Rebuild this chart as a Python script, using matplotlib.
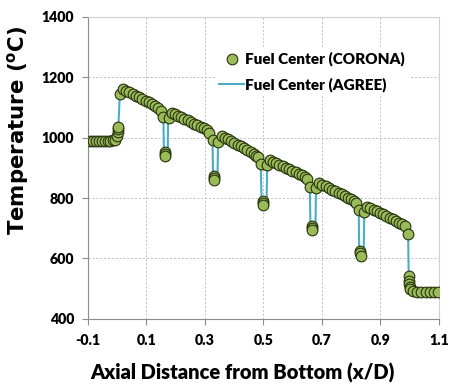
#!/usr/bin/env python3
"""Fuel center temperature vs axial distance, CORONA vs AGREE"""

from matplotlib import pyplot as plt

# CORONA points (x/D, temperature in C)
corona_x = [-0.093, -0.083, -0.073, -0.063, -0.053, -0.043, -0.033, -0.023, -0.013, -0.006,
            -0.001, 0.002, 0.003, 0.004, 0.009,
            0.020, 0.031, 0.042, 0.053, 0.064, 0.075, 0.086, 0.097, 0.108, 0.119, 0.130, 0.141, 0.150,
            0.157, 0.163, 0.164, 0.165, 0.177,
            0.186, 0.197, 0.208, 0.219, 0.230, 0.241, 0.252, 0.263, 0.274, 0.285, 0.296, 0.306, 0.315,
            0.326, 0.330, 0.331, 0.332, 0.345,
            0.357, 0.368, 0.379, 0.390, 0.401, 0.412, 0.423, 0.434, 0.445, 0.456, 0.467, 0.476, 0.482,
            0.491, 0.497, 0.498, 0.499, 0.513,
            0.522, 0.533, 0.544, 0.555, 0.566, 0.577, 0.588, 0.599, 0.610, 0.621, 0.632, 0.642, 0.649,
            0.659, 0.665, 0.666, 0.667, 0.680,
            0.691, 0.702, 0.713, 0.724, 0.735, 0.746, 0.757, 0.768, 0.779, 0.790, 0.801, 0.811, 0.818,
            0.826, 0.831, 0.832, 0.833, 0.845,
            0.855, 0.866, 0.877, 0.888, 0.899, 0.910, 0.921, 0.932, 0.943, 0.954, 0.965, 0.975, 0.985,
            0.995, 0.997, 0.998, 0.999, 1.000, 1.003, 1.010, 1.025, 1.040, 1.055, 1.070, 1.085, 1.098]
corona_t = [990, 990, 989, 989, 989, 989, 990, 990, 991, 992,
            1005, 1020, 1030, 1035, 1145,
            1161, 1155, 1150, 1145, 1139, 1134, 1128, 1123, 1117, 1111, 1105, 1098, 1089,
            1070, 953, 945, 940, 1066,
            1083, 1078, 1073, 1068, 1063, 1058, 1052, 1047, 1042, 1036, 1031, 1025, 1017,
            993, 873, 865, 860, 987,
            1006, 1000, 995, 989, 983, 977, 971, 965, 959, 953, 947, 941, 935,
            913, 791, 783, 777, 910,
            926, 921, 916, 911, 906, 901, 896, 891, 886, 880, 875, 869, 862,
            838, 708, 700, 693, 832,
            849, 844, 839, 834, 828, 823, 817, 812, 806, 801, 796, 790, 783,
            759, 626, 617, 609, 755,
            772, 767, 762, 757, 751, 746, 741, 735, 730, 724, 719, 713, 706,
            680, 542, 525, 515, 507, 498, 492, 490, 490, 490, 490, 490, 490]

# AGREE line (x/D, temperature in C)
agree_x = [-0.093, -0.006, 0.000, 0.004, 0.009, 0.020, 0.150,
           0.158, 0.160, 0.173, 0.174, 0.186, 0.315,
           0.326, 0.328, 0.343, 0.345, 0.357, 0.482,
           0.491, 0.494, 0.511, 0.513, 0.522, 0.649,
           0.659, 0.661, 0.678, 0.680, 0.691, 0.818,
           0.826, 0.828, 0.843, 0.845, 0.855, 0.985,
           0.995, 0.997, 1.000, 1.010, 1.098]
agree_t = [990, 992, 1005, 1035, 1145, 1161, 1089,
           1070, 945, 945, 1066, 1083, 1017,
           993, 865, 865, 987, 1006, 935,
           913, 783, 783, 910, 926, 862,
           838, 700, 700, 832, 849, 783,
           759, 617, 617, 755, 772, 706,
           680, 542, 507, 492, 490]

x_ticks = [-0.1, 0.1, 0.3, 0.5, 0.7, 0.9, 1.1]
y_ticks = [400, 600, 800, 1000, 1200, 1400]

plt.rcParams['font.family'] = ['Lato', 'DejaVu Sans']
plt.rcParams['font.weight'] = 'heavy'
plt.rcParams['mathtext.fontset'] = 'custom'
plt.rcParams['mathtext.rm'] = 'DejaVu Sans:bold'
plt.rcParams['mathtext.bf'] = 'DejaVu Sans:bold'

fig = plt.figure(figsize=(4.51, 3.86), dpi=100)
ax = fig.add_axes([0.195, 0.174, 0.778, 0.782])

ax.plot(agree_x, agree_t, color='#4BACC6', lw=1.5, label='Fuel Center (AGREE)', zorder=2)
ax.plot(corona_x, corona_t, ls='none', marker='o', ms=7.7, mfc='#9BBB59',
        mec='#26330f', mew=0.8, label='Fuel Center (CORONA)', zorder=3)

ax.set_xlim(-0.1, 1.1)
ax.set_ylim(400, 1400)
ax.set_xticks(x_ticks)
ax.set_xticklabels([f"{t:.1f}" for t in x_ticks])
ax.set_yticks(y_ticks)

ax.grid(True, ls=(0, (2, 2)), color='#BFBFBF', lw=0.7)
ax.set_axisbelow(True)
for side in ['top', 'right']:
    ax.spines[side].set_color('#D0D0D0')
for side in ['left', 'bottom']:
    ax.spines[side].set_color('#8C8C8C')
ax.tick_params(direction='out', length=4, color='#8C8C8C', labelsize=10.2)
ax.tick_params(axis='x', pad=7)
ax.tick_params(axis='y', pad=6)

ax.set_xlabel('Axial Distance from Bottom (x/D)', fontsize=14.5, fontweight='heavy')
ax.set_ylabel(r'Temperature ($^{\mathrm{o}}$C)', fontsize=15.3, fontweight='bold',
              family='DejaVu Sans')
ax.xaxis.set_label_coords(0.44, -0.145)
ax.yaxis.set_label_coords(-0.163, 0.625)

handles, labels = ax.get_legend_handles_labels()
leg = ax.legend(handles[::-1], labels[::-1], loc='upper left',
                bbox_to_anchor=(0.34, 0.925), frameon=True, fancybox=False,
                fontsize=11, handlelength=1.6, handletextpad=0.1,
                borderpad=0.3, labelspacing=0.7)
leg.get_frame().set_facecolor('white')
leg.get_frame().set_edgecolor('none')
leg.get_frame().set_alpha(1)

fig.savefig('out.png', dpi=100)
